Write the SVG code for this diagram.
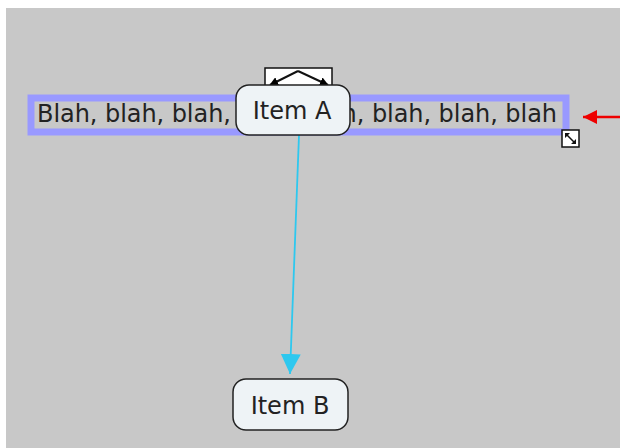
<svg xmlns="http://www.w3.org/2000/svg" width="620" height="448" viewBox="0 0 620 448">
<style>
.node rect{fill:#eef3f6;stroke:#222;stroke-width:1.5}
.lbl{font-family:"DejaVu Sans",Verdana,sans-serif;font-size:24px;fill:#222;text-anchor:middle}
</style>
<defs>
<marker id="cy" viewBox="0 0 10 10" refX="10" refY="5" markerWidth="20" markerHeight="20" markerUnits="userSpaceOnUse" orient="auto"><path d="M0,0 L10,5 L0,10 z" fill="#2ec8ef"/></marker>
<marker id="rd" viewBox="0 0 10 10" refX="10" refY="5" markerWidth="14" markerHeight="14" markerUnits="userSpaceOnUse" orient="auto"><path d="M0,0 L10,5 L0,10 z" fill="#ee0000"/></marker>
<marker id="bk" viewBox="0 0 10 10" refX="9" refY="5" markerWidth="9" markerHeight="9" markerUnits="userSpaceOnUse" orient="auto"><path d="M0,0 L10,5 L0,10 z" fill="#000"/></marker>
</defs>
<rect x="6" y="8" width="614" height="440" fill="#c8c8c8"/>
<g id="textbox">
<rect x="31" y="98" width="535" height="34" fill="none" stroke="#9999ff" stroke-width="7"/>
<text x="37" y="122" font-family="DejaVu Sans,Verdana,sans-serif" font-size="24" fill="#222" textLength="520" lengthAdjust="spacing">Blah, blah, blah, blah, blah, blah, blah, blah</text>
<g id="resize">
<rect x="562" y="130" width="17" height="17" fill="#fff" stroke="#111" stroke-width="1.5"/>
<path d="M566,134 L575,143" stroke="#111" stroke-width="1.5"/>
<path d="M565,133 L570,133 L565,138 z M576,144 L571,144 L576,139 z" fill="#111"/>
</g>
</g>
<g id="connectors">
<line x1="299" y1="135" x2="290" y2="374" stroke="#2ec8ef" stroke-width="1.8" marker-end="url(#cy)"/>
<line x1="620" y1="117" x2="583" y2="117" stroke="#ee0000" stroke-width="2.5" marker-end="url(#rd)"/>
</g>
<g id="handle">
<rect x="265" y="68" width="67" height="23" fill="#fff" stroke="#111" stroke-width="1.5"/>
<path d="M298,71 L270,85" stroke="#111" stroke-width="2" marker-end="url(#bk)"/>
<path d="M298,71 L328,85" stroke="#111" stroke-width="2" marker-end="url(#bk)"/>
</g>
<g id="itemA" class="node">
<rect x="236" y="85" width="114" height="50" rx="13"/>
<text class="lbl" x="292" y="119">Item A</text>
</g>
<g id="itemB" class="node">
<rect x="233" y="379" width="115" height="51" rx="13"/>
<text class="lbl" x="290" y="414">Item B</text>
</g>
</svg>
